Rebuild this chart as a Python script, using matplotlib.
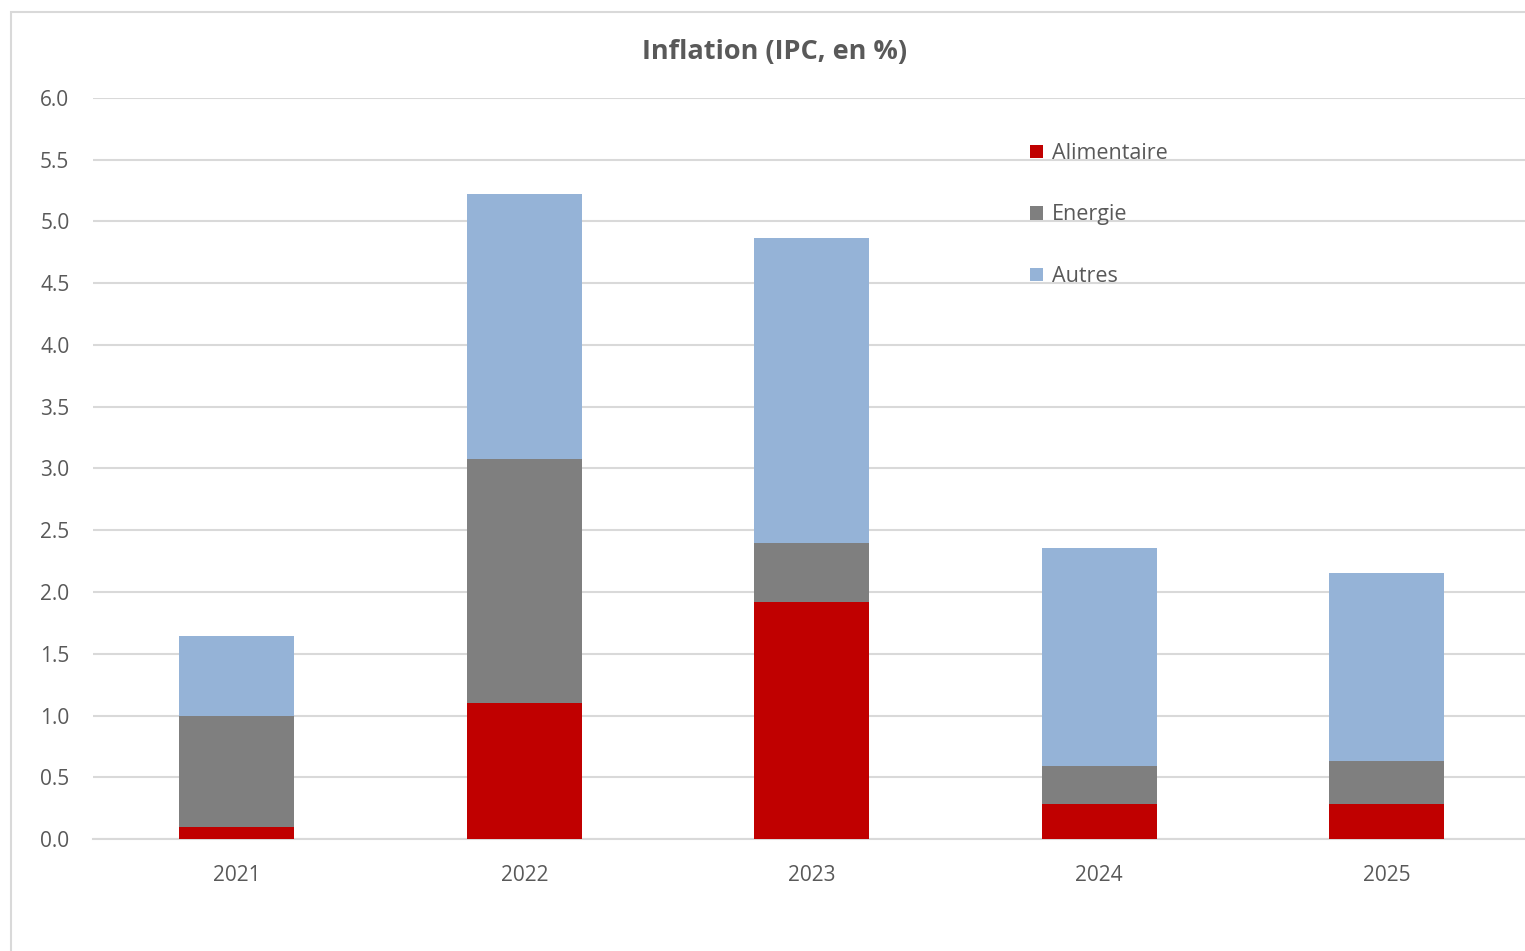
import matplotlib.pyplot as plt
import numpy as np
from matplotlib.patches import Rectangle

plt.rcParams["font.family"] = ["Open Sans", "DejaVu Sans"]

# contributions a l'inflation, en points
years = ["2021", "2022", "2023", "2024", "2025"]
alimentaire = [0.10, 1.10, 1.92, 0.28, 0.28]
energie = [0.90, 1.98, 0.48, 0.31, 0.35]
autres = [0.64, 2.14, 2.47, 1.77, 1.52]

series = [
    ("Alimentaire", alimentaire, "#c00000"),
    ("Energie", energie, "#7f7f7f"),
    ("Autres", autres, "#95b3d7"),
]

W, H = 1525, 951
fig = plt.figure(figsize=(W / 100, H / 100), dpi=100)
ax = fig.add_axes([93 / W, (H - 839) / H, (1530.5 - 93) / W, (839 - 98) / H])

# cadre du graphique
fig.patches.append(Rectangle((11 / W, -0.1), 1.2, 1 - 12 / H + 0.1,
                             transform=fig.transFigure, fill=False,
                             edgecolor="#d9d9d9", linewidth=1.5))

x = np.arange(len(years))
bottom = np.zeros(len(years))
for name, vals, col in series:
    ax.bar(x, vals, 0.4, bottom=bottom, color=col, label=name, zorder=3)
    bottom += np.array(vals)

ax.set_xlim(-0.5, len(years) - 0.5)
ax.set_ylim(0, 6)
ax.set_yticks(np.arange(0, 6.01, 0.5))
ax.set_yticklabels(["{:.1f}".format(v) for v in np.arange(0, 6.01, 0.5)])
ax.set_xticks(x)
ax.set_xticklabels(years)
ax.grid(axis="y", color="#d9d9d9", linewidth=1.5, zorder=0)
for s in ["top", "right", "left"]:
    ax.spines[s].set_visible(False)
ax.spines["bottom"].set_color("#d9d9d9")
ax.spines["bottom"].set_linewidth(1.5)
ax.tick_params(axis="both", length=0, labelsize=15, colors="#595959")
ax.tick_params(axis="y", pad=17)
ax.tick_params(axis="x", pad=18.5)

fig.text(775 / W, 1 - 52 / H, "Inflation (IPC, en %)", ha="center", va="center",
         fontsize=19.5, fontweight="bold", color="#595959")

leg = ax.legend(loc="upper left", bbox_to_anchor=((1030 - 93) / (1530.5 - 93), 1 - (143 - 98) / (839 - 98)),
                frameon=False, fontsize=15.5, handlelength=0.6, handleheight=0.6,
                handletextpad=0.4, labelspacing=1.88, borderaxespad=0, borderpad=0)
for t in leg.get_texts():
    t.set_color("#595959")

fig.savefig("out.png", dpi=100)
